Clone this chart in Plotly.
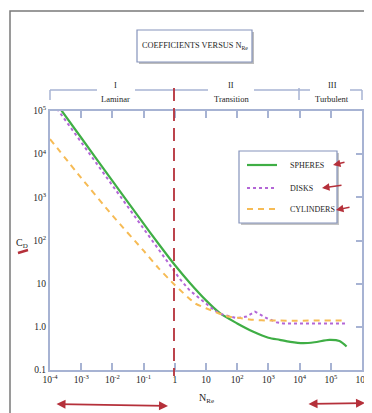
import plotly.graph_objects as go

# ---------------- data ----------------
re_sph = [1e-4, 1e-3, 1e-2, 0.1, 0.3, 1, 3, 10, 28, 100, 330, 1000, 2300, 5000, 13000, 30000, 90000, 190000, 320000]
cd_sph = [240000, 24000, 2400, 245, 84, 27, 10.5, 4.1, 2.07, 1.2, 0.77, 0.56, 0.5, 0.45, 0.42, 0.44, 0.50, 0.47, 0.35]

re_dsk = [1e-4, 1e-3, 1e-2, 0.1, 0.3, 1, 1.5, 3, 8, 20, 36, 100, 200, 370, 900, 1800, 3000, 320000]
cd_dsk = [190000, 19000, 1900, 192, 65, 19.5, 12.5, 7, 3.9, 2.3, 1.9, 1.58, 1.73, 2.25, 1.58, 1.28, 1.2, 1.2]

re_cyl = [1e-4, 1e-3, 1e-2, 0.1, 0.3, 1, 4.5, 10, 22, 52, 137, 330, 1000, 320000]
cd_cyl = [22400, 2820, 380, 58, 23, 9.3, 3.5, 2.7, 2.14, 1.73, 1.58, 1.45, 1.4, 1.4]

x_tickvals = [1e-4, 1e-3, 1e-2, 1e-1, 1, 10, 1e2, 1e3, 1e4, 1e5, 1e6]
x_ticktext = ["10<sup>-4</sup>", "10<sup>-3</sup>", "10<sup>-2</sup>", "10<sup>-1</sup>", "1", "10",
              "10<sup>2</sup>", "10<sup>3</sup>", "10<sup>4</sup>", "10<sup>5</sup>", "10<sup>6</sup>"]
y_tickvals = [0.1, 1, 10, 1e2, 1e3, 1e4, 1e5]
y_ticktext = ["0.1", "1.0", "10", "10<sup>2</sup>", "10<sup>3</sup>", "10<sup>4</sup>", "10<sup>5</sup>"]

series_names = ["SPHERES", "DISKS", "CYLINDERS"]
regions = [("I", "Laminar"), ("II", "Transition"), ("III", "Turbulent")]

# ---------------- style ----------------
PAGE_OFF = 8                      # default body margin of the html page
WIN_W, WIN_H = 372, 413
W, H = WIN_W - PAGE_OFF, WIN_H - PAGE_OFF
PX0, PX1, PY0, PY1 = 50, 362, 111, 370   # plot area in window pixels
L = PX0 - PAGE_OFF
R = WIN_W - PX1
T = PY0 - PAGE_OFF
B = WIN_H - PY1
AX = "#a7b3d3"
RED = "#b5303a"
GREEN = "#3fae45"
PURPLE = "#b366d6"
ORANGE = "#f6bb55"
FONT = "Liberation Serif"
TXT = "#1e1e1e"


def px(x):
    return (x - PX0) / (PX1 - PX0)


def py(y):
    return (PY1 - y) / (PY1 - PY0)


def label(x, y, text, size=9, xanchor="center"):
    return dict(xref="paper", yref="paper", x=px(x), y=py(y), showarrow=False, text=text,
                xanchor=xanchor, yanchor="middle", font=dict(family=FONT, size=size, color=TXT))


fig = go.Figure()
fig.add_trace(go.Scatter(x=re_sph, y=cd_sph, mode="lines", name=series_names[0],
                         line=dict(color=GREEN, width=2.2, shape="spline", smoothing=0.8)))
fig.add_trace(go.Scatter(x=re_dsk, y=cd_dsk, mode="lines", name=series_names[1],
                         line=dict(color=PURPLE, width=2, dash="dot")))
fig.add_trace(go.Scatter(x=re_cyl, y=cd_cyl, mode="lines", name=series_names[2], yaxis="y2",
                         line=dict(color=ORANGE, width=2, dash="6px,5px", shape="spline", smoothing=0.6)))

shapes = []
annotations = []

# outer frame
shapes.append(dict(type="rect", xref="paper", yref="paper", x0=px(10), x1=px(420), y0=py(460), y1=py(11),
                   line=dict(color="#7a7a7a", width=1.5), layer="below"))

# title box with shadow
shapes.append(dict(type="rect", xref="paper", yref="paper", x0=px(139), x1=px(254), y0=py(64), y1=py(32),
                   line=dict(width=0), fillcolor="#bdbdbd"))
shapes.append(dict(type="rect", xref="paper", yref="paper", x0=px(137), x1=px(252), y0=py(62), y1=py(30),
                   line=dict(color="#8593bb", width=1.2), fillcolor="white"))
annotations.append(label(195, 46, "COEFFICIENTS VERSUS N<sub>Re</sub>", 8.3))

# region bracket
for a, b in [(50, 97), (135, 208), (254, 310), (350, 362)]:
    shapes.append(dict(type="line", xref="paper", yref="paper", x0=px(a), x1=px(b), y0=py(90), y1=py(90),
                       line=dict(color=AX, width=1.5)))
for xx, ya in [(50, 90), (299, 88), (362, 90)]:
    shapes.append(dict(type="line", xref="paper", yref="paper", x0=px(xx), x1=px(xx), y0=py(ya), y1=py(100),
                       line=dict(color=AX, width=1.5)))
for (num, lab), cx in zip(regions, [115, 231, 332]):
    annotations.append(label(cx, 85, num, 8.5))
    annotations.append(label(cx, 99, lab, 8.5))

# legend box (custom)
shapes.append(dict(type="rect", xref="paper", yref="paper", x0=px(241), x1=px(339), y0=py(225), y1=py(153),
                   line=dict(width=0), fillcolor="#c4c4c4"))
shapes.append(dict(type="rect", xref="paper", yref="paper", x0=px(239), x1=px(337), y0=py(223), y1=py(151),
                   line=dict(color="#8593bb", width=1.2), fillcolor="white"))
for name, col, dash, yy in zip(series_names, [GREEN, PURPLE, ORANGE], ["solid", "dot", "6px,5px"], [165, 188, 209]):
    shapes.append(dict(type="line", xref="paper", yref="paper", x0=px(247), x1=px(277), y0=py(yy), y1=py(yy),
                       line=dict(color=col, width=2.2, dash=dash)))
    annotations.append(label(288, yy, name, 8, xanchor="left"))

# axis titles
annotations.append(label(22, 243, "C<sub>D</sub>", 10))
annotations.append(label(206, 398, "N<sub>Re</sub>", 10))

# red hand annotations
shapes.append(dict(type="line", xref="paper", yref="paper", x0=px(174), x1=px(174), y0=py(88), y1=py(376),
                   line=dict(color=RED, width=1.8, dash="13px,7px")))
shapes.append(dict(type="line", xref="paper", yref="paper", x0=px(18), x1=px(28), y0=py(253), y1=py(250),
                   line=dict(color=RED, width=2.5)))
for (hx, hy), (tx, ty) in [((333, 165), (346, 162)), ((322, 188), (343, 185)), ((336, 210), (351, 207))]:
    annotations.append(dict(xref="paper", yref="paper", x=px(hx), y=py(hy), ax=tx - hx, ay=ty - hy,
                            showarrow=True, arrowhead=2, arrowsize=1, arrowwidth=1.5, arrowcolor=RED, text=""))
for (hx, hy), (tx, ty) in [((168, 406), (55, 404)), ((365, 403), (307, 404))]:
    annotations.append(dict(xref="paper", yref="paper", x=px(hx), y=py(hy), ax=tx - hx, ay=ty - hy,
                            showarrow=True, arrowhead=2, arrowsize=1, arrowwidth=1.8, arrowcolor=RED,
                            arrowside="end+start", startarrowhead=2, startarrowsize=1, text=""))

fig.update_layout(
    width=W, height=H,
    margin=dict(l=L, r=R, t=T, b=B, autoexpand=False),
    paper_bgcolor="white", plot_bgcolor="white",
    showlegend=False,
    font=dict(family=FONT, size=9, color=TXT),
    xaxis=dict(type="log", range=[-4, 6], tickvals=x_tickvals, ticktext=x_ticktext,
               showline=True, linecolor=AX, linewidth=2, mirror="ticks",
               ticks="inside", ticklen=7, tickwidth=1.5, tickcolor=AX,
               showgrid=False, zeroline=False, tickfont=dict(family=FONT, size=9.5, color=TXT)),
    yaxis=dict(type="log", range=[-1, 5], tickvals=y_tickvals, ticktext=y_ticktext,
               showline=True, linecolor=AX, linewidth=2, mirror=True, ticks="",
               showgrid=False, zeroline=False, tickfont=dict(family=FONT, size=9.5, color=TXT)),
    yaxis2=dict(type="log", range=[-1, 5], overlaying="y", side="right", tickvals=y_tickvals,
                showticklabels=False, showline=False, ticks="inside", ticklen=6, tickwidth=1.5,
                tickcolor=AX, showgrid=False, zeroline=False),
    shapes=shapes,
    annotations=annotations,
)

fig.write_html("out.html")
